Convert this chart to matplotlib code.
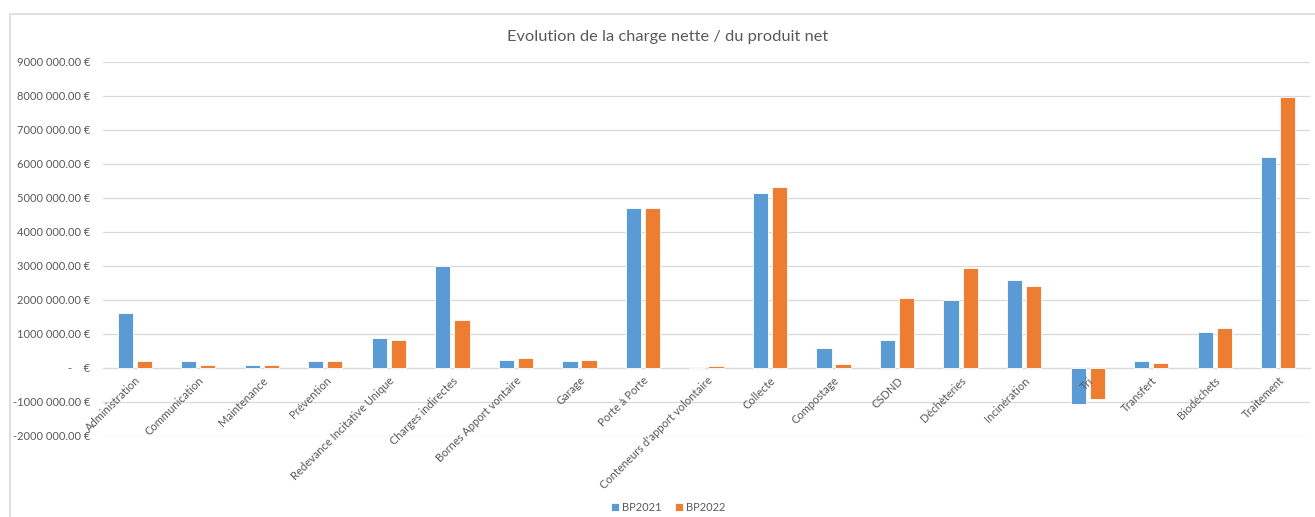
import matplotlib.pyplot as plt
import numpy as np
from matplotlib.patches import Rectangle
from matplotlib.ticker import FuncFormatter, MultipleLocator

plt.rcParams['font.family'] = ['Lato', 'DejaVu Sans']

categories = ['Administration', 'Communication', 'Maintenance', 'Prévention',
              'Redevance Incitative Unique', 'Charges indirectes',
              'Bornes Apport vontaire', 'Garage', 'Porte à Porte',
              "Conteneurs d'apport volontaire", 'Collecte', 'Compostage',
              'CSDND', 'Déchèteries', 'Incinération', 'Tri', 'Transfert',
              'Biodéchets', 'Traitement']
bp2021 = [1630000, 200000, 80000, 200000, 880000, 3000000, 240000, 200000,
          4720000, 0, 5160000, 600000, 810000, 2000000, 2580000, -1070000,
          210000, 1050000, 6200000]
bp2022 = [200000, 100000, 80000, 210000, 810000, 1410000, 280000, 230000,
          4700000, 60000, 5310000, 130000, 2060000, 2950000, 2400000, -900000,
          160000, 1170000, 7960000]

blue = '#5B9BD5'
orange = '#ED7D31'
grey = '#595959'

fig = plt.figure(figsize=(13.15, 5.17), dpi=100)
# left/top frame of the chart area
fig.patches.append(Rectangle((10 / 1315, -0.1), 1.1, 1 - 14 / 517 + 0.1,
                             transform=fig.transFigure, fill=False,
                             edgecolor='#D9D9D9', lw=1.2))

ax = fig.add_axes([103 / 1315, 81 / 517, 1207 / 1315, 374 / 517])

x = np.arange(len(categories))
w = 0.24
ax.bar(x - 0.15, bp2021, w, color=blue, edgecolor='white', lw=0.6, label='BP2021', zorder=3)
ax.bar(x + 0.15, bp2022, w, color=orange, edgecolor='white', lw=0.6, label='BP2022', zorder=3)

ax.set_xlim(-0.5, len(categories) - 0.5)
ax.set_ylim(-2000000, 9000000)
ax.yaxis.set_major_locator(MultipleLocator(1000000))


def euro(v, pos):
    n = int(round(abs(v)))
    if n == 0:
        return '-    €'
    s = f'{n // 1000} {n % 1000:03d}.00 €'
    return '-' + s if v < 0 else s


ax.yaxis.set_major_formatter(FuncFormatter(euro))
ax.grid(axis='y', color='#D9D9D9', lw=0.9)
ax.set_axisbelow(True)
ax.xaxis.set_zorder(5)  # category labels sit on top of the bars (see "Tri")
for s in ['top', 'right', 'left']:
    ax.spines[s].set_visible(False)
ax.spines['bottom'].set_position(('data', 0))
ax.spines['bottom'].set_color('#D9D9D9')
ax.spines['bottom'].set_zorder(0.5)
ax.tick_params(axis='y', length=0, pad=9, labelsize=8, labelcolor=grey)
ax.tick_params(axis='x', length=0, pad=5, labelsize=8, labelcolor=grey)

ax.set_xticks(x)
ax.set_xticklabels(categories, rotation=45, ha='right', va='top', rotation_mode='anchor')

fig.text(0.508, 0.928, 'Evolution de la charge nette / du produit net',
         ha='center', va='center', fontsize=11.8, color=grey)
fig.legend(loc='center', bbox_to_anchor=(0.508, 0.019), ncol=2, frameon=False,
           fontsize=8, labelcolor=grey, handlelength=0.7, handleheight=0.7,
           handletextpad=0.3, columnspacing=1.2)

fig.savefig('out.png', dpi=100)
